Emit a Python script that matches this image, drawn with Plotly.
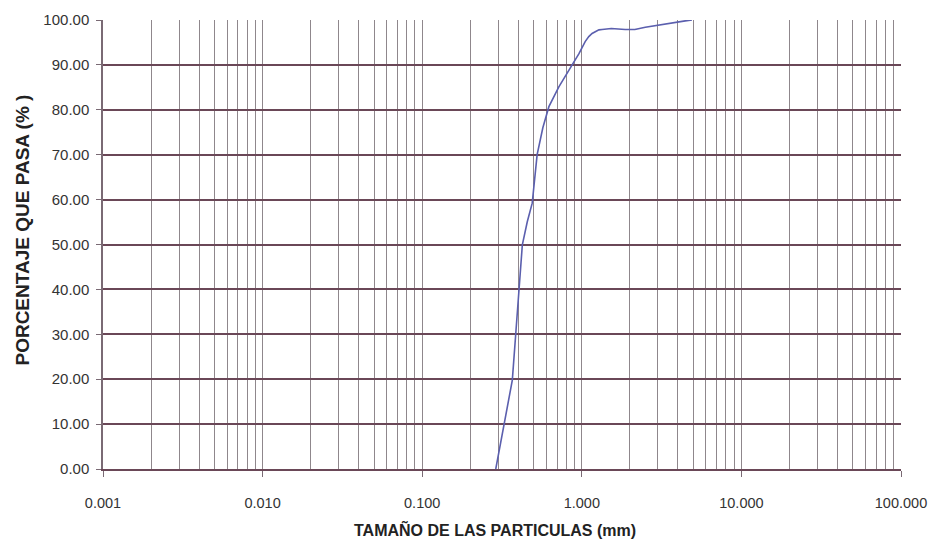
import plotly.graph_objects as go

# Particle size (mm) vs percent passing
size_mm = [0.289, 0.325, 0.367, 0.385, 0.404, 0.424, 0.455, 0.489, 0.525, 0.57,
           0.622, 0.718, 0.87, 0.96, 1.05, 1.106, 1.16, 1.28, 1.34, 1.53,
           1.87, 2.15, 2.50, 3.02, 3.67, 4.45, 4.9]
pct_passing = [0, 9.8, 19.8, 29.8, 39.9, 49.9, 55, 59.2, 70, 76,
               80.7, 85.1, 90, 92.5, 95.2, 96.3, 97.0, 97.8, 97.9, 98.1,
               97.9, 97.9, 98.4, 98.9, 99.4, 99.8, 100]

x_tick_vals = [0.001, 0.01, 0.1, 1, 10, 100]
x_tick_text = ["0.001", "0.010", "0.100", "1.000", "10.000", "100.000"]
y_tick_vals = [0, 10, 20, 30, 40, 50, 60, 70, 80, 90, 100]
y_tick_text = ["0.00", "10.00", "20.00", "30.00", "40.00", "50.00",
               "60.00", "70.00", "80.00", "90.00", "100.00"]
y_grid_vals = [10, 20, 30, 40, 50, 60, 70, 80, 90]
decades = [0.001, 0.01, 0.1, 1, 10]
mantissas = [1, 2, 3, 4, 5, 6, 7, 8, 9]
x_grid_vals = [m * d for d in decades for m in mantissas if not (m == 1 and d == 0.001)] + [100]

x_title = "TAMAÑO DE LAS PARTICULAS (mm)"
y_title = "PORCENTAJE QUE PASA (% )"

FONT = "Liberation Sans, Arial, sans-serif"
VGRID = "#8f878c"
HGRID = "#6a4757"
AXIS = "#7a6a74"
CURVE = "#5b5fae"

fig = go.Figure()
fig.add_trace(go.Scatter(x=size_mm, y=pct_passing, mode="lines",
                         line=dict(color=CURVE, width=1.6),
                         xaxis="x", yaxis="y", showlegend=False))
# invisible copy to host the overlay grid axes
fig.add_trace(go.Scatter(x=size_mm, y=pct_passing, mode="lines", opacity=0,
                         xaxis="x2", yaxis="y2", hoverinfo="skip", showlegend=False))

fig.update_layout(
    width=920, height=532,
    margin=dict(l=95, r=27, t=12, b=71, autoexpand=False),
    paper_bgcolor="white", plot_bgcolor="white",
    font=dict(family=FONT, color="#222222"),
    xaxis=dict(type="log", range=[-3, 2], tickvals=x_tick_vals, ticktext=x_tick_text,
               ticks="outside", ticklen=6, tickcolor=AXIS, tickwidth=1,
               showgrid=False, zeroline=False, showline=True, linecolor=HGRID, linewidth=1.5,
               tickfont=dict(size=14.5, family=FONT, color="#333333"),
               ticklabelstandoff=14, ticklabeloverflow="allow", automargin=False),
    yaxis=dict(range=[0, 100], tickvals=y_tick_vals, ticktext=y_tick_text,
               ticks="outside", ticklen=5, tickcolor=AXIS, tickwidth=1,
               showgrid=False, zeroline=False, showline=True, linecolor=AXIS, linewidth=1.5,
               tickfont=dict(size=15, family=FONT, color="#333333"),
               ticklabelstandoff=4, ticklabeloverflow="allow", automargin=False),
    xaxis2=dict(type="log", range=[-3, 2], overlaying="x", anchor="y2",
                tickvals=x_grid_vals, showticklabels=False, ticks="",
                showgrid=True, gridcolor=VGRID, gridwidth=1,
                zeroline=False, showline=False, automargin=False),
    yaxis2=dict(range=[0, 100], overlaying="y", anchor="x2",
                tickvals=y_grid_vals, showticklabels=False, ticks="",
                showgrid=True, gridcolor=HGRID, gridwidth=1.6,
                zeroline=False, showline=False, automargin=False),
    annotations=[
        dict(text=f"<b>{x_title}</b>", xref="paper", yref="paper",
             x=0.491, y=-0.1345, xanchor="center", yanchor="middle",
             showarrow=False, font=dict(size=16, family=FONT, color="#222222")),
        dict(text=f"<b>{y_title}</b>", xref="paper", yref="paper",
             x=-0.101, y=0.532, xanchor="center", yanchor="middle", textangle=-90,
             showarrow=False, font=dict(size=19, family=FONT, color="#222222")),
    ],
)

fig.write_html("out.html")
